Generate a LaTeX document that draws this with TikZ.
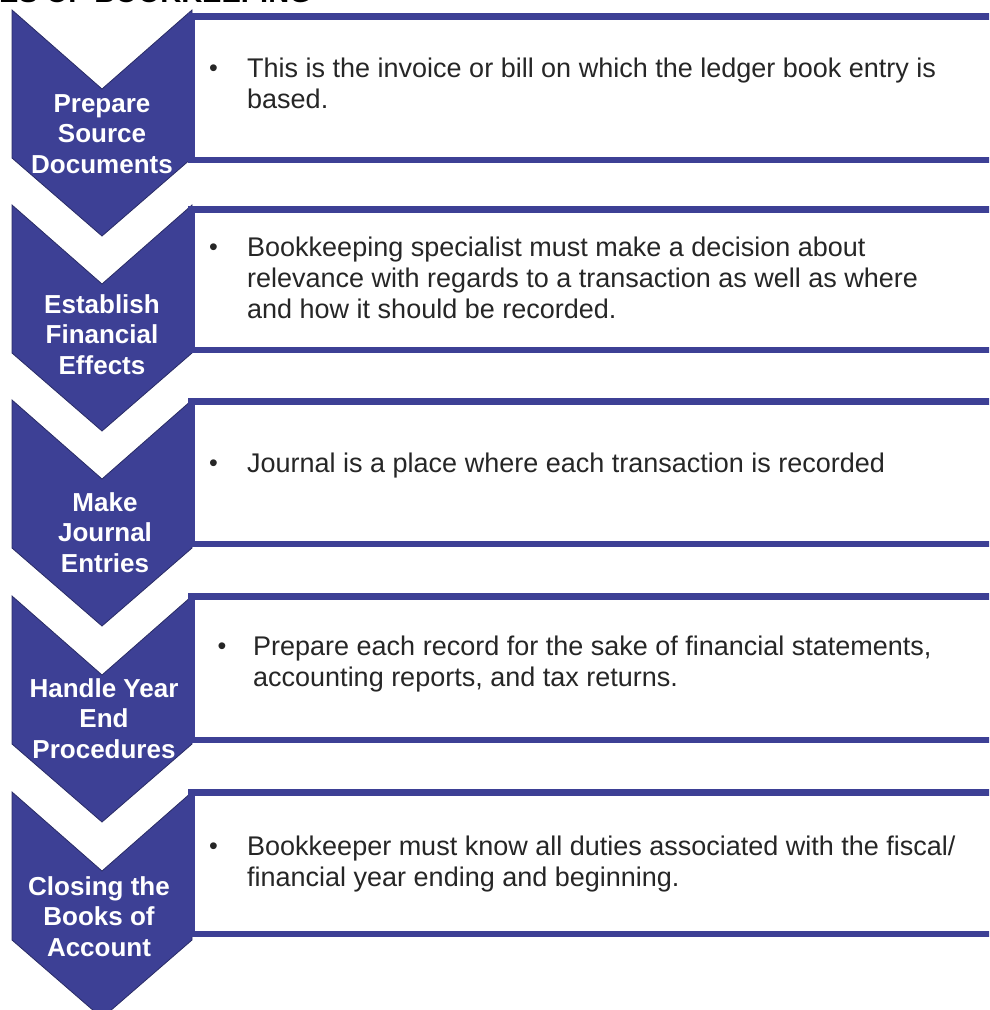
\documentclass[tikz,border=0pt]{standalone}
\usepackage{fontspec}
\setmainfont{Liberation Sans}
\definecolor{cb}{RGB}{61,64,149}
\definecolor{cbdark}{RGB}{42,44,102}
\definecolor{txt}{RGB}{38,38,38}
\begin{document}
\begin{tikzpicture}[x=1pt,y=-1pt,
  chev/.style={fill=cb, draw=cbdark, line width=0.8pt, line join=miter},
  infobox/.style={draw=cb, line width=6.5pt, fill=white},
  steptext/.style={text=white, font=\bfseries\fontsize{26}{30.5}\selectfont, align=center, inner sep=0pt, anchor=north},
  bodytext/.style={text=txt, font=\fontsize{27}{31}\selectfont, align=left, inner sep=0pt, anchor=north west},
  bul/.style={text=txt, font=\fontsize{25}{25}\selectfont, inner sep=0pt, anchor=base},
  ]
\useasboundingbox (0,0) rectangle (989,1010);
\clip (0,0) rectangle (989,1010);
% cut-off title
\node[font=\bfseries\fontsize{29}{29}\selectfont, anchor=base east, inner sep=0pt] (title) at (312,2) {ES OF BOOKKEEPING};
% chevrons
\foreach \y in {10,205,400,596,792}{
  \draw[chev] (12,\y) -- (102,\y+79) -- (192,\y) -- (192,\y+148) -- (102,\y+226) -- (12,\y+148) -- cycle;
}
% boxes
\draw[infobox] (191.5,16.25) rectangle (1000,159.75);
\draw[infobox] (191.5,209.25) rectangle (1000,349.75);
\draw[infobox] (191.5,401.25) rectangle (1000,543.75);
\draw[infobox] (191.5,596.25) rectangle (1000,739.75);
\draw[infobox] (191.5,792.25) rectangle (1000,933.75);
% step labels
\node[steptext] (s1) at (102,87) {\rule{0pt}{25pt}Prepare\\Source\\Documents};
\node[steptext] (s2) at (102,288) {\rule{0pt}{25pt}Establish\\Financial\\Effects};
\node[steptext] (s3) at (105,486) {\rule{0pt}{25pt}Make\\Journal\\Entries};
\node[steptext] (s4) at (104,672) {\rule{0pt}{25pt}Handle Year\\End\\Procedures};
\node[steptext] (s5) at (99,870) {\rule{0pt}{25pt}Closing the\\Books of\\Account};
% bullets
\node[bul] (b1) at (213.5,76.5) {•};
\node[bul] (b2) at (213.5,255.5) {•};
\node[bul] (b3) at (213.5,471.5) {•};
\node[bul] (b4) at (222,654.5) {•};
\node[bul] (b5) at (213.5,854.5) {•};
% body text
\node[bodytext] (t1) at (247,52) {\rule{0pt}{25pt}This is the invoice or bill on which the ledger book entry is\\based.};
\node[bodytext] (t2) at (247,231) {\rule{0pt}{25pt}Bookkeeping specialist must make a decision about\\relevance with regards to a transaction as well as where\\and how it should be recorded.};
\node[bodytext] (t3) at (247,447) {\rule{0pt}{25pt}Journal is a place where each transaction is recorded};
\node[bodytext] (t4) at (253,630) {\rule{0pt}{25pt}Prepare each record for the sake of financial statements,\\accounting reports, and tax returns.};
\node[bodytext] (t5) at (247,830) {\rule{0pt}{25pt}Bookkeeper must know all duties associated with the fiscal/\\financial year ending and beginning.};
\end{tikzpicture}
\end{document}
